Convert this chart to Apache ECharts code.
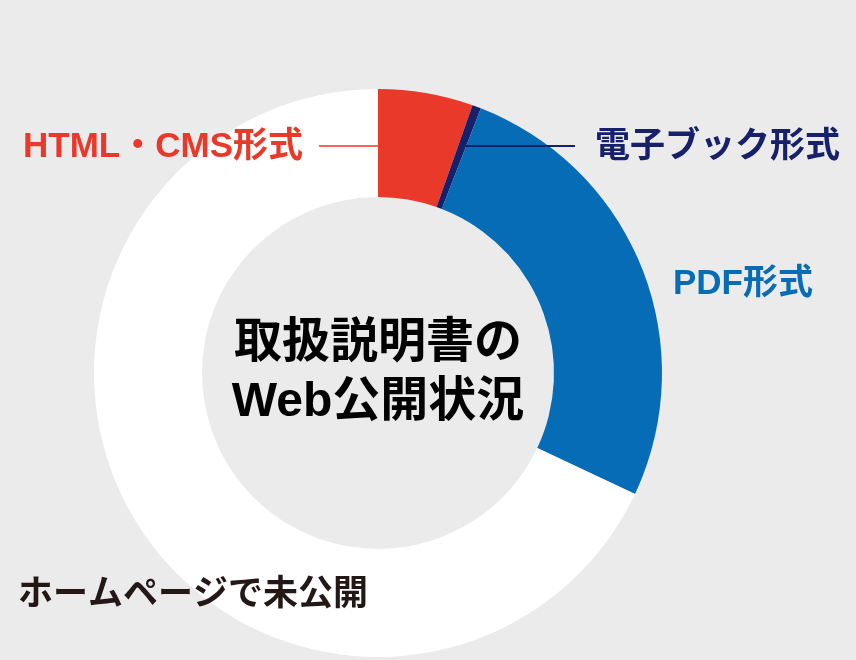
<!DOCTYPE html>
<html lang="ja" style="height: 100%">
  <head>
    <meta charset="utf-8" />
    <title>取扱説明書のWeb公開状況</title>
  </head>
  <body style="height: 100%; margin: 0; background: #ebebeb">
    <div id="container" style="width: 856px; height: 660px"></div>

    <script
      type="text/javascript"
      src="https://fastly.jsdelivr.net/npm/echarts@6/dist/echarts.min.js"
    ></script>

    <script type="text/javascript">
      // 値はグラフから読み取った概算 (%)
      var categories = ["HTML・CMS形式", "電子ブック形式", "PDF形式", "ホームページで未公開"];
      var values = [5.4, 0.5, 26.1, 68.0];
      var colors = ["#e8392a", "#16216a", "#066cb5", "#ffffff"];
      var labelColors = ["#e8392a", "#16216a", "#066cb5", "#231815"];

      var FONT = "'Liberation Sans', 'Noto Sans CJK JP', sans-serif";

      // ラベルの置き場所 (px)
      var labelPos = [
        { x: 303, y: 147, align: "right", line: [[319, 146], [378, 146]] },
        { x: 595, y: 147, align: "left", line: [[465, 146], [575, 146]] },
        { x: 673, y: 284, align: "left" },
        { x: 18, y: 595, align: "left" },
      ];

      var dom = document.getElementById("container");
      var myChart = echarts.init(dom, null, { renderer: "canvas" });

      var pieBase = {
        type: "pie",
        center: [378, 373],
        radius: [176, 284],
        startAngle: 90,
        clockwise: true,
        avoidLabelOverlap: false,
        silent: true,
      };

      var option = {
        backgroundColor: "#ebebeb",
        animation: false,
        graphic: [
          {
            type: "text",
            x: 378,
            y: 373,
            style: {
              text: "取扱説明書の\nWeb公開状況",
              font: "bold 48px " + FONT,
              lineHeight: 59,
              fill: "#000000",
              align: "center",
              verticalAlign: "middle",
            },
          },
        ],
        series: [
          // 扇形
          Object.assign({}, pieBase, {
            z: 2,
            label: { show: false },
            labelLine: { show: false },
            data: categories.map(function (name, i) {
              return { name: name, value: values[i], itemStyle: { color: colors[i] } };
            }),
          }),
          // ラベルと引出線 (扇形の上に重ねる)
          Object.assign({}, pieBase, {
            z: 3,
            itemStyle: { color: "rgba(0,0,0,0)" },
            data: categories.map(function (name, i) {
              return {
                name: name,
                value: values[i],
                label: { color: labelColors[i] },
                labelLine: {
                  show: !!labelPos[i].line,
                  lineStyle: { color: labelColors[i], width: i === 0 ? 1.5 : 2 },
                },
              };
            }),
            label: {
              show: true,
              position: "outside",
              formatter: "{b}",
              fontSize: 35,
              fontWeight: "bold",
              fontFamily: FONT,
            },
            labelLayout: function (params) {
              var p = labelPos[params.dataIndex];
              var out = {
                x: p.x,
                y: p.y,
                align: p.align,
                verticalAlign: "middle",
              };
              if (p.line) out.labelLinePoints = p.line;
              return out;
            },
          }),
        ],
      };

      myChart.setOption(option);
      window.addEventListener("resize", myChart.resize);
    </script>
  </body>
</html>
